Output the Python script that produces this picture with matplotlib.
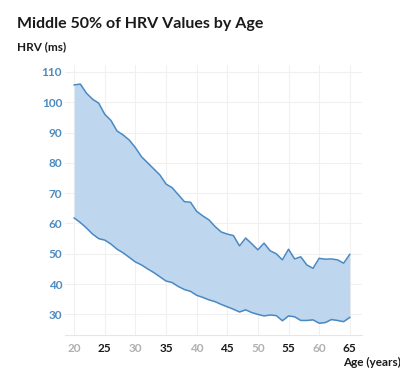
import numpy as np
import matplotlib
matplotlib.use('Agg')
from matplotlib import pyplot as plt

ages = list(range(20, 66))

upper = [105.7, 106.0, 103.0, 101.0, 99.7, 96.0, 94.0, 90.5, 89.2, 87.5,
         85.0, 82.0, 80.0, 78.0, 76.0, 73.0, 71.8, 69.5, 67.2, 67.0,
         64.0, 62.5, 61.2, 59.0, 57.2, 56.5, 56.0, 52.6, 55.2, 53.3,
         51.3, 53.5, 51.0, 50.0, 48.0, 51.5, 48.3, 49.0, 46.3, 45.2,
         48.5, 48.2, 48.3, 48.0, 46.9, 49.8]

lower = [61.8, 60.3, 58.5, 56.5, 55.0, 54.5, 53.2, 51.5, 50.3, 48.8,
         47.3, 46.3, 45.0, 43.8, 42.4, 41.0, 40.5, 39.2, 38.2, 37.6,
         36.3, 35.6, 34.8, 34.2, 33.3, 32.5, 31.7, 30.8, 31.5, 30.6,
         30.0, 29.5, 29.8, 29.6, 27.9, 29.5, 29.2, 28.0, 28.0, 28.2,
         27.1, 27.3, 28.3, 28.0, 27.6, 29.0]

x_ticks = [20, 25, 30, 35, 40, 45, 50, 55, 60, 65]
y_ticks = [30, 40, 50, 60, 70, 80, 90, 100, 110]

plt.rcParams['font.family'] = ['Lato', 'DejaVu Sans']

fig = plt.figure(figsize=(4, 3.88), dpi=100)
ax = fig.add_axes([0.1625, 0.1366, 0.7425, 0.696])

line_col = '#4a89c2'
ax.fill_between(ages, lower, upper, color='#bfd6ef', linewidth=0)
ax.plot(ages, upper, color=line_col, linewidth=1.1)
ax.plot(ages, lower, color=line_col, linewidth=1.1)

ax.set_xlim(18.5, 67)
ax.set_ylim(23.2, 112.3)
ax.set_xticks(x_ticks)
ax.set_yticks(y_ticks)
ax.grid(True, color='#f0f0f0', linewidth=0.8)
ax.set_axisbelow(True)

for s in ['top', 'right', 'left']:
    ax.spines[s].set_visible(False)
ax.spines['bottom'].set_color('#e6e6e6')
ax.tick_params(axis='x', length=0, pad=6)
ax.tick_params(axis='y', length=0, pad=2)

ax.set_yticklabels([str(v) for v in y_ticks], fontsize=8.5, fontweight='bold', color='#4d8bbf')
ax.set_xticklabels([str(v) for v in x_ticks], fontsize=8.5, fontweight='bold')
for i, lab in enumerate(ax.get_xticklabels()):
    lab.set_color('#b0b0b0' if i % 2 == 0 else '#1a1a1a')

fig.text(17/400, 1 - 24/388, 'Middle 50% of HRV Values by Age', fontsize=11.5,
         fontweight='bold', color='#1a1a1a', va='center', ha='left')
fig.text(17/400, 1 - 47/388, 'HRV (ms)', fontsize=8.5, fontweight='bold',
         color='#1a1a1a', va='center', ha='left')
fig.text(401/400, 1 - 362/388, 'Age (years)', fontsize=8.5, fontweight='bold',
         color='#1a1a1a', va='center', ha='right')

fig.savefig('out.png', dpi=100)
